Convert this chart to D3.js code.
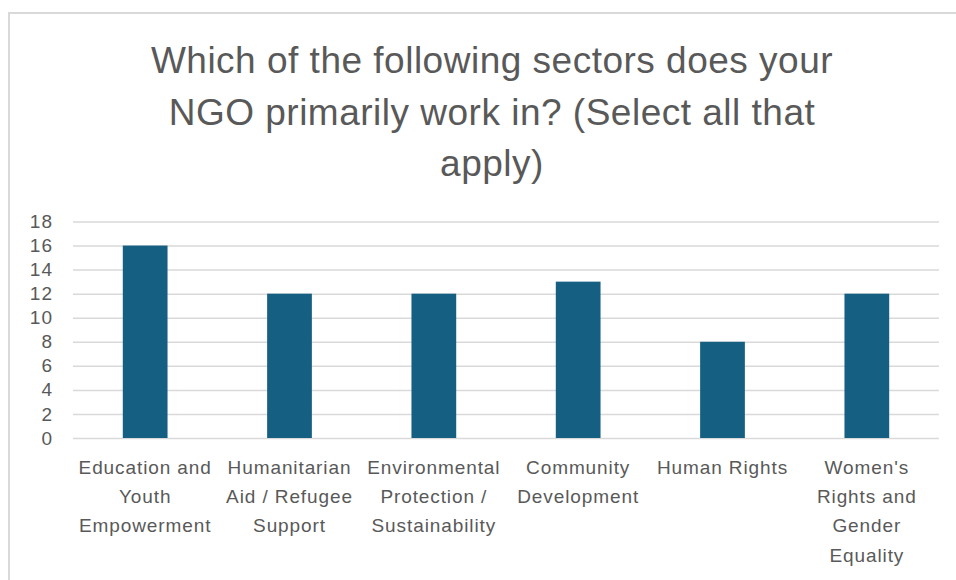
<!DOCTYPE html>
<html>
<head>
<meta charset="utf-8">
<script src="https://cdn.jsdelivr.net/npm/d3@7"></script>
<style>
  html, body { margin: 0; padding: 0; background: #ffffff; }
  svg { display: block; }
  text { font-family: "Liberation Sans", Arial, sans-serif; fill: #595959; }
</style>
</head>
<body>
<svg id="chart" width="956" height="580"></svg>
<script>
// Survey responses: NGO sectors (multiple selection allowed)
const categories = [
  "Education and Youth Empowerment",
  "Humanitarian Aid / Refugee Support",
  "Environmental Protection / Sustainability",
  "Community Development",
  "Human Rights",
  "Women's Rights and Gender Equality"
];
const categoryLines = [
  ["Education and", "Youth", "Empowerment"],
  ["Humanitarian", "Aid / Refugee", "Support"],
  ["Environmental", "Protection /", "Sustainability"],
  ["Community", "Development"],
  ["Human Rights"],
  ["Women's", "Rights and", "Gender", "Equality"]
];
const counts = [16, 12, 12, 13, 8, 12];
const yTicks = [0, 2, 4, 6, 8, 10, 12, 14, 16, 18];
const titleLines = [
  "Which of the following sectors does your",
  "NGO primarily work in? (Select all that",
  "apply)"
];

const svg = d3.select("#chart");

// chart frame (right and bottom edges run past the viewport)
svg.append("rect")
  .attr("x", 9).attr("y", 13)
  .attr("width", 1000).attr("height", 620)
  .attr("fill", "#ffffff")
  .attr("stroke", "#d9d9d9")
  .attr("stroke-width", 2);

const plot = { left: 73, right: 939, top: 221.5, bottom: 438 };

const x = d3.scaleBand()
  .domain(categories)
  .range([plot.left, plot.right])
  .paddingInner(0.69)
  .paddingOuter(0.345);

const y = d3.scaleLinear()
  .domain([0, 18])
  .range([plot.bottom, plot.top]);

// title
const title = svg.append("text")
  .attr("text-anchor", "middle")
  .attr("font-size", 37)
  .attr("letter-spacing", 0.5)
  .attr("fill", "#595959");
titleLines.forEach((t, i) => {
  title.append("tspan")
    .attr("x", 492)
    .attr("y", 73 + i * 51.5)
    .text(t);
});

// gridlines + y labels via axis
const yAxis = d3.axisLeft(y)
  .tickValues(yTicks)
  .tickSize(-(plot.right - plot.left))
  .tickPadding(20);

const gy = svg.append("g")
  .attr("transform", `translate(${plot.left},0)`)
  .call(yAxis);
gy.select(".domain").remove();
gy.selectAll(".tick line")
  .attr("stroke", "#d9d9d9")
  .attr("stroke-width", 1.5);
gy.selectAll(".tick text")
  .attr("font-size", 19)
  .attr("letter-spacing", 1)
  .attr("fill", "#595959")
  .attr("font-family", "Liberation Sans, Arial, sans-serif");

// bars
svg.append("g")
  .selectAll("rect")
  .data(counts)
  .join("rect")
  .attr("x", (d, i) => x(categories[i]))
  .attr("y", d => y(d))
  .attr("width", x.bandwidth())
  .attr("height", d => y(0) - y(d))
  .attr("fill", "#156082");

// category labels
const xAxis = d3.axisBottom(x).tickSize(0).tickFormat("");
const gx = svg.append("g")
  .attr("transform", `translate(0,${plot.bottom})`)
  .call(xAxis);
gx.select(".domain").remove();
gx.selectAll(".tick").each(function(d, i) {
  const t = d3.select(this).append("text")
    .attr("text-anchor", "middle")
    .attr("font-size", 19)
    .attr("letter-spacing", 0.9)
    .attr("fill", "#595959");
  categoryLines[i].forEach((line, j) => {
    t.append("tspan")
      .attr("x", 0)
      .attr("y", 36 + j * 29.2)
      .text(line);
  });
});
</script>
</body>
</html>
